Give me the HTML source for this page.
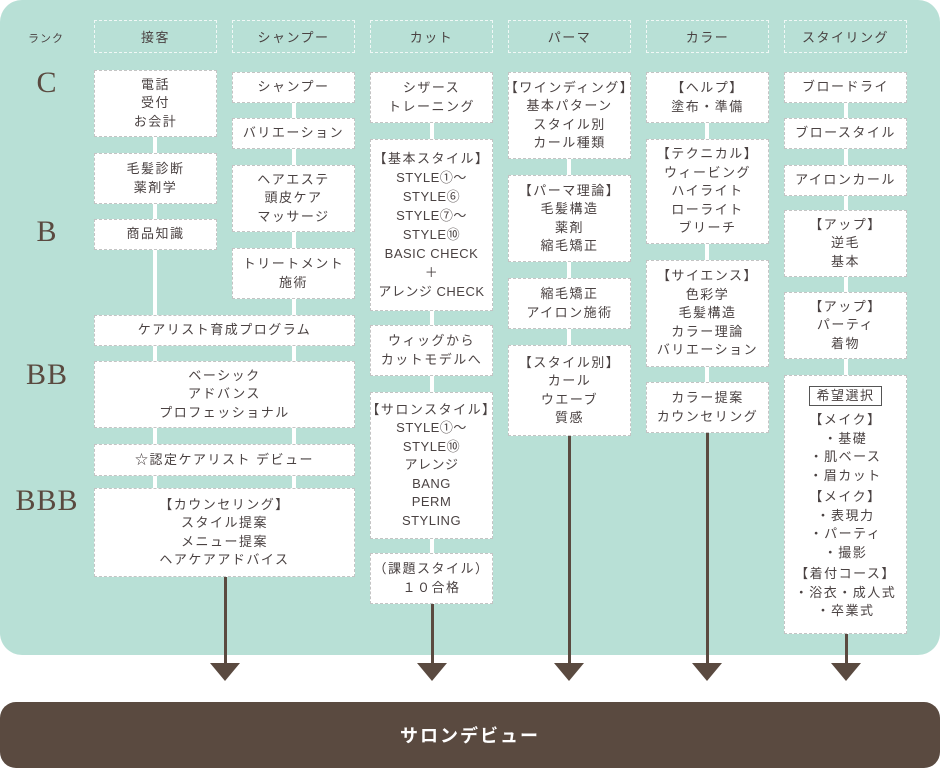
<!DOCTYPE html>
<html><head><meta charset="utf-8"><style>
*{margin:0;padding:0;box-sizing:border-box}
body{width:940px;height:768px;background:#fff;position:relative;overflow:hidden;font-family:"Liberation Sans","Noto Sans CJK JP",sans-serif;color:#4a4242}
.panel{position:absolute;left:0;top:0;width:940px;height:655px;background:#b8e0d6;border-radius:22px}
.b{position:absolute;background:#fff;border:1px dashed #c4c4c4;display:flex;align-items:center;justify-content:center;text-align:center;font-size:13px;line-height:18.5px;letter-spacing:1.5px;white-space:nowrap}
.h{position:absolute;top:20px;height:33px;border:1px dashed rgba(255,255,255,.8);display:flex;align-items:center;justify-content:center;font-size:13px;letter-spacing:1.5px}
.l{position:absolute;width:4px;background:#fff;margin-left:-2px}
.r{position:absolute;left:0;width:94px;text-align:center;font-family:"Liberation Serif",serif;font-size:30px;color:#5a4a40;letter-spacing:1px}
.a{position:absolute;width:3px;background:#5a4a40;margin-left:-1.5px}
.t{position:absolute;width:0;height:0;border-left:15px solid transparent;border-right:15px solid transparent;border-top:18px solid #5a4a40;margin-left:-15px;top:663px}
.bar{position:absolute;left:0;top:702px;width:940px;height:66px;background:#5a4a40;border-radius:16px;color:#fff;font-size:18px;letter-spacing:2px;display:flex;align-items:center;justify-content:center;font-weight:bold}
.lt{letter-spacing:0.5px}
</style></head><body>
<div class="panel"></div>
<div style="position:absolute;left:28px;top:30px;font-size:11px;letter-spacing:1px">ランク</div>
<div class="r" style="top:66px">C</div>
<div class="r" style="top:215px">B</div>
<div class="r" style="top:358px">BB</div>
<div class="r" style="top:484px">BBB</div>

<div class="h" style="left:94px;width:123px">接客</div>
<div class="h" style="left:232px;width:123px">シャンプー</div>
<div class="h" style="left:370px;width:123px">カット</div>
<div class="h" style="left:508px;width:123px">パーマ</div>
<div class="h" style="left:646px;width:123px">カラー</div>
<div class="h" style="left:784px;width:123px">スタイリング</div>

<div class="l" style="left:155px;top:70px;height:500px"></div>
<div class="l" style="left:294px;top:72px;height:500px"></div>
<div class="l" style="left:432px;top:72px;height:530px"></div>
<div class="l" style="left:569px;top:72px;height:360px"></div>
<div class="l" style="left:707px;top:72px;height:360px"></div>
<div class="l" style="left:846px;top:72px;height:560px"></div>

<div class="a" style="left:225px;top:577px;height:88px"></div><div class="t" style="left:225px"></div>
<div class="a" style="left:432px;top:604px;height:61px"></div><div class="t" style="left:432px"></div>
<div class="a" style="left:569px;top:436px;height:229px"></div><div class="t" style="left:569px"></div>
<div class="a" style="left:707px;top:433px;height:232px"></div><div class="t" style="left:707px"></div>
<div class="a" style="left:846px;top:634px;height:31px"></div><div class="t" style="left:846px"></div>

<div class="b" style="left:94px;top:70px;width:123px;height:67px">電話<br>受付<br>お会計</div>
<div class="b" style="left:94px;top:153px;width:123px;height:51px">毛髪診断<br>薬剤学</div>
<div class="b" style="left:94px;top:219px;width:123px;height:31px">商品知識</div>

<div class="b" style="left:232px;top:72px;width:123px;height:31px">シャンプー</div>
<div class="b" style="left:232px;top:118px;width:123px;height:31px">バリエーション</div>
<div class="b" style="left:232px;top:165px;width:123px;height:67px">ヘアエステ<br>頭皮ケア<br>マッサージ</div>
<div class="b" style="left:232px;top:248px;width:123px;height:51px">トリートメント<br>施術</div>

<div class="b" style="left:94px;top:315px;width:261px;height:31px">ケアリスト育成プログラム</div>
<div class="b" style="left:94px;top:361px;width:261px;height:67px">ベーシック<br>アドバンス<br>プロフェッショナル</div>
<div class="b" style="left:94px;top:444px;width:261px;height:32px">☆認定ケアリスト デビュー</div>
<div class="b" style="left:94px;top:488px;width:261px;height:89px">【カウンセリング】<br>スタイル提案<br>メニュー提案<br>ヘアケアアドバイス</div>

<div class="b" style="left:370px;top:72px;width:123px;height:51px">シザース<br>トレーニング</div>
<div class="b" style="left:370px;top:139px;width:123px;height:172px;line-height:19px"><div>【基本スタイル】<br><span class="lt">STYLE①～<br>STYLE⑥<br>STYLE⑦～<br>STYLE⑩<br>BASIC CHECK<br>＋<br>アレンジ CHECK</span></div></div>
<div class="b" style="left:370px;top:325px;width:123px;height:51px">ウィッグから<br>カットモデルへ</div>
<div class="b" style="left:370px;top:392px;width:123px;height:147px"><div>【サロンスタイル】<br><span class="lt">STYLE①～<br>STYLE⑩<br>アレンジ<br>BANG<br>PERM<br>STYLING</span></div></div>
<div class="b" style="left:370px;top:553px;width:123px;height:51px">（課題スタイル）<br>１０合格</div>

<div class="b" style="left:508px;top:72px;width:123px;height:87px">【ワインディング】<br>基本パターン<br>スタイル別<br>カール種類</div>
<div class="b" style="left:508px;top:175px;width:123px;height:87px">【パーマ理論】<br>毛髪構造<br>薬剤<br>縮毛矯正</div>
<div class="b" style="left:508px;top:278px;width:123px;height:51px">縮毛矯正<br>アイロン施術</div>
<div class="b" style="left:508px;top:345px;width:123px;height:91px">【スタイル別】<br>カール<br>ウエーブ<br>質感</div>

<div class="b" style="left:646px;top:72px;width:123px;height:51px">【ヘルプ】<br>塗布・準備</div>
<div class="b" style="left:646px;top:139px;width:123px;height:105px">【テクニカル】<br>ウィービング<br>ハイライト<br>ローライト<br>ブリーチ</div>
<div class="b" style="left:646px;top:260px;width:123px;height:107px">【サイエンス】<br>色彩学<br>毛髪構造<br>カラー理論<br>バリエーション</div>
<div class="b" style="left:646px;top:382px;width:123px;height:51px">カラー提案<br>カウンセリング</div>

<div class="b" style="left:784px;top:72px;width:123px;height:31px">ブロードライ</div>
<div class="b" style="left:784px;top:118px;width:123px;height:31px">ブロースタイル</div>
<div class="b" style="left:784px;top:165px;width:123px;height:31px">アイロンカール</div>
<div class="b" style="left:784px;top:210px;width:123px;height:67px">【アップ】<br>逆毛<br>基本</div>
<div class="b" style="left:784px;top:292px;width:123px;height:67px">【アップ】<br>パーティ<br>着物</div>
<div class="b" style="left:784px;top:375px;width:123px;height:259px;flex-direction:column;justify-content:flex-start;padding-top:10px"><span style="border:1px solid #555;padding:0 6px;line-height:18px;margin-bottom:5px">希望選択</span>【メイク】<br>・基礎<br>・肌ベース<br>・眉カット<div style="height:3px"></div>【メイク】<br>・表現力<br>・パーティ<br>・撮影<div style="height:3px"></div>【着付コース】<br>・浴衣・成人式<br>・卒業式</div>

<div class="bar">サロンデビュー</div>
</body></html>
